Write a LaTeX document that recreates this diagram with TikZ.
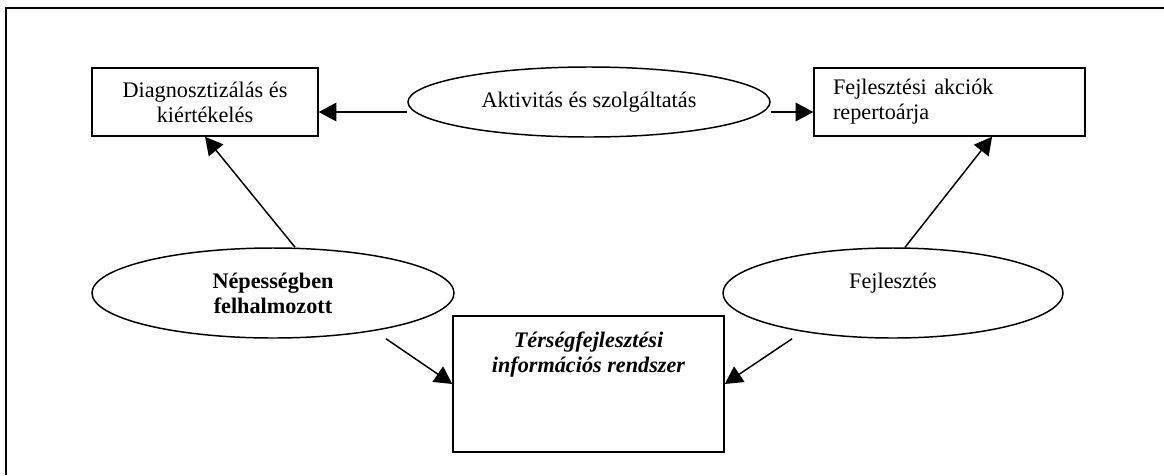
\documentclass[tikz,border=0pt]{standalone}
\usepackage{fontspec}
\setmainfont{Liberation Serif}
\usetikzlibrary{shapes.geometric,arrows.meta}
\tikzset{
	doboz/.style={draw,thick,rectangle,inner sep=0pt},
	ovalis/.style={draw,thick,ellipse,inner sep=0pt,align=center},
	nyil/.style={thick,-{Triangle[length=9.5pt,width=10pt]}}
}
\begin{document}
\begin{tikzpicture}[x=0.54pt,y=-0.54pt,font=\fontsize{12}{13.5}\selectfont]
	\useasboundingbox (0,0) rectangle (1164,475);
	\draw[semithick] (6,475) -- (6,8) -- (1164,8);
	% felso sor
	\node[doboz,minimum width=122pt,minimum height=36.7pt,align=center] (diag) at (205,102) {Diagnosztizálás és\\kiértékelés};
	\node[ovalis,minimum width=195.5pt,minimum height=37.8pt] (aktiv) at (589,102) {Aktivitás és szolgáltatás};
	\node[doboz,minimum width=146.3pt,minimum height=36.7pt,text width=125.8pt,align=left] (akciok) at (949.5,102) {Fejlesztési akciók\\repertoárja};
	% also sor
	\node[ovalis,minimum width=195.5pt,minimum height=48.6pt] (nep) at (273,293) {\textbf{Népességben}\\\textbf{felhalmozott}};
	\node[ovalis,minimum width=183.6pt,minimum height=48.6pt] (fejl) at (893,293) {};
	\node (fejltext) at (893,283) {Fejlesztés};
	\node[doboz,minimum width=146.3pt,minimum height=73.4pt] (tis) at (588.5,384) {};
	\node[align=center,font=\fontsize{12}{13.5}\selectfont\bfseries\itshape] (tistext) at (588.5,355) {Térségfejlesztési\\információs rendszer};
	% nyilak
	\draw[nyil] ([yshift=-5.4pt]aktiv.west) -- ([yshift=-5.4pt]diag.east);
	\draw[nyil] ([yshift=-5.4pt]aktiv.east) -- ([yshift=-5.4pt]akciok.west);
	\draw[nyil] ([xshift=11.9pt]nep.north) -- (diag.south);
	\draw[nyil] ([xshift=6.5pt]fejl.north) -- ([xshift=23pt]akciok.south);
	\draw[nyil] ([xshift=61pt]nep.south) -- (tis.west);
	\draw[nyil] ([xshift=-54.5pt]fejl.south) -- (tis.east);
\end{tikzpicture}
\end{document}
